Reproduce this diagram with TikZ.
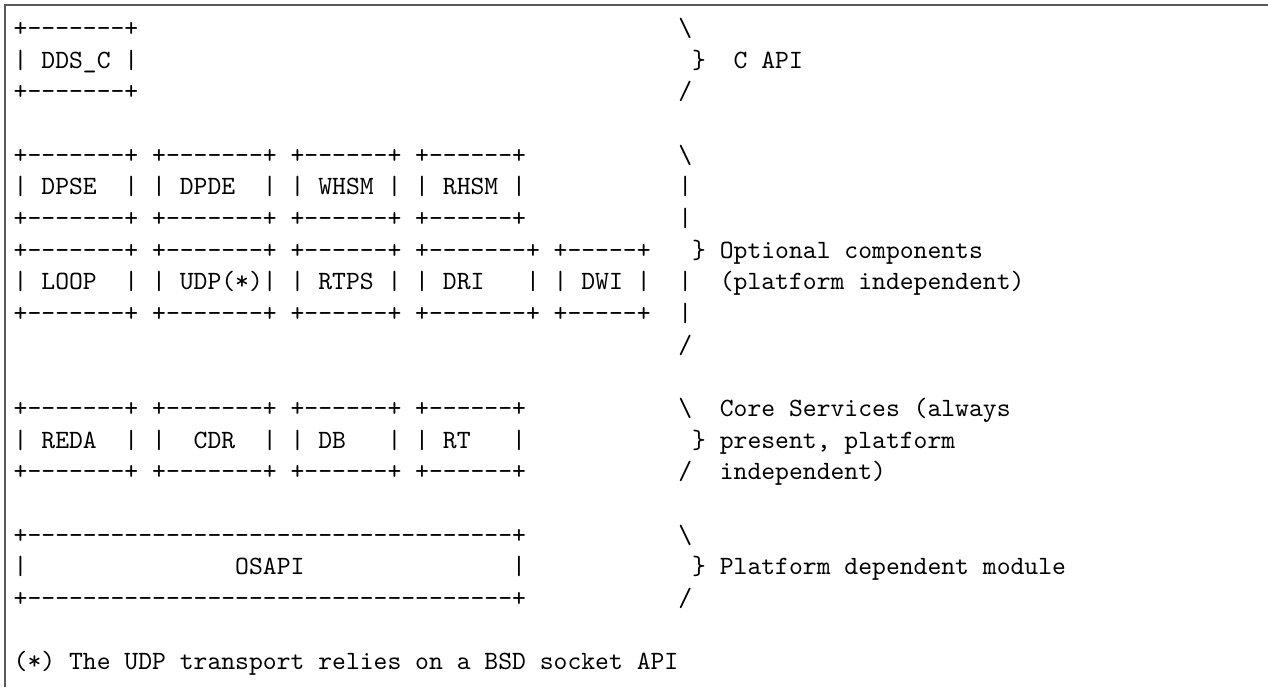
\documentclass[tikz,border=0pt]{standalone}
\usepackage{tikz}
\ExplSyntaxOn
\NewDocumentCommand\dashrun{m}{\prg_replicate:nn{#1}{\mbox{-}}}
\ExplSyntaxOff
\newcommand\asc[4]{\node[asciitext] (#1) at ({5.2pt+(#2-1)*5.25pt},{-13.9pt-(#3-1)*12pt}) {#4};}
\tikzset{
  asciitext/.style={anchor=base west, inner sep=0pt, outer sep=0pt,
    font=\fontsize{10pt}{12pt}\selectfont\ttfamily},
  frameline/.style={draw=black!65, line width=0.7pt}
}
\begin{document}
\begin{tikzpicture}
\useasboundingbox (0,0) rectangle (480.8pt,-260.5pt);
% frame (only top and left edges visible)
\coordinate (fbl) at (1.9pt,-260.5pt);
\coordinate (ftl) at (1.9pt,-1.8pt);
\coordinate (ftr) at (480.8pt,-1.8pt);
\draw[frameline] (fbl) -- (ftl) -- (ftr);
% C API
\asc{r1a}{1}{1}{+\dashrun{7}+}
\asc{r1b}{49}{1}{\textbackslash}
\asc{r2a}{1}{2}{|\ DDS\_C\ |}
\asc{r2b}{50}{2}{\}}
\asc{r2c}{53}{2}{C\ API}
\asc{r3a}{1}{3}{+\dashrun{7}+}
\asc{r3b}{49}{3}{/}
% optional components
\asc{r5a}{1}{5}{+\dashrun{7}+\ +\dashrun{7}+\ +\dashrun{6}+\ +\dashrun{6}+}
\asc{r5b}{49}{5}{\textbackslash}
\asc{r6a}{1}{6}{|\ DPSE\ \ |\ |\ DPDE\ \ |\ |\ WHSM\ |\ |\ RHSM\ |}
\asc{r6b}{49}{6}{|}
\asc{r7a}{1}{7}{+\dashrun{7}+\ +\dashrun{7}+\ +\dashrun{6}+\ +\dashrun{6}+}
\asc{r7b}{49}{7}{|}
\asc{r8a}{1}{8}{+\dashrun{7}+\ +\dashrun{7}+\ +\dashrun{6}+\ +\dashrun{7}+\ +\dashrun{5}+}
\asc{r8b}{50}{8}{\}}
\asc{r8c}{52}{8}{Optional\ components}
\asc{r9a}{1}{9}{|\ LOOP\ \ |\ |\ UDP(*)|\ |\ RTPS\ |\ |\ DRI\ \ \ |\ |\ DWI\ |}
\asc{r9b}{49}{9}{|}
\asc{r9c}{52}{9}{(platform\ independent)}
\asc{r10a}{1}{10}{+\dashrun{7}+\ +\dashrun{7}+\ +\dashrun{6}+\ +\dashrun{7}+\ +\dashrun{5}+}
\asc{r10b}{49}{10}{|}
\asc{r11b}{49}{11}{/}
% core services
\asc{r13a}{1}{13}{+\dashrun{7}+\ +\dashrun{7}+\ +\dashrun{6}+\ +\dashrun{6}+}
\asc{r13b}{49}{13}{\textbackslash}
\asc{r13c}{52}{13}{Core\ Services\ (always}
\asc{r14a}{1}{14}{|\ REDA\ \ |\ |\ \ CDR\ \ |\ |\ DB\ \ \ |\ |\ RT\ \ \ |}
\asc{r14b}{50}{14}{\}}
\asc{r14c}{52}{14}{present,\ platform}
\asc{r15a}{1}{15}{+\dashrun{7}+\ +\dashrun{7}+\ +\dashrun{6}+\ +\dashrun{6}+}
\asc{r15b}{49}{15}{/}
\asc{r15c}{52}{15}{independent)}
% platform dependent
\asc{r17a}{1}{17}{+\dashrun{35}+}
\asc{r17b}{49}{17}{\textbackslash}
\asc{r18a}{1}{18}{|}
\asc{r18m}{17}{18}{OSAPI}
\asc{r18e}{37}{18}{|}
\asc{r18b}{50}{18}{\}}
\asc{r18c}{52}{18}{Platform\ dependent\ module}
\asc{r19a}{1}{19}{+\dashrun{35}+}
\asc{r19b}{49}{19}{/}
% footnote
\asc{r21a}{1}{21}{(*)\ The\ UDP\ transport\ relies\ on\ a\ BSD\ socket\ API}
\end{tikzpicture}
\end{document}
